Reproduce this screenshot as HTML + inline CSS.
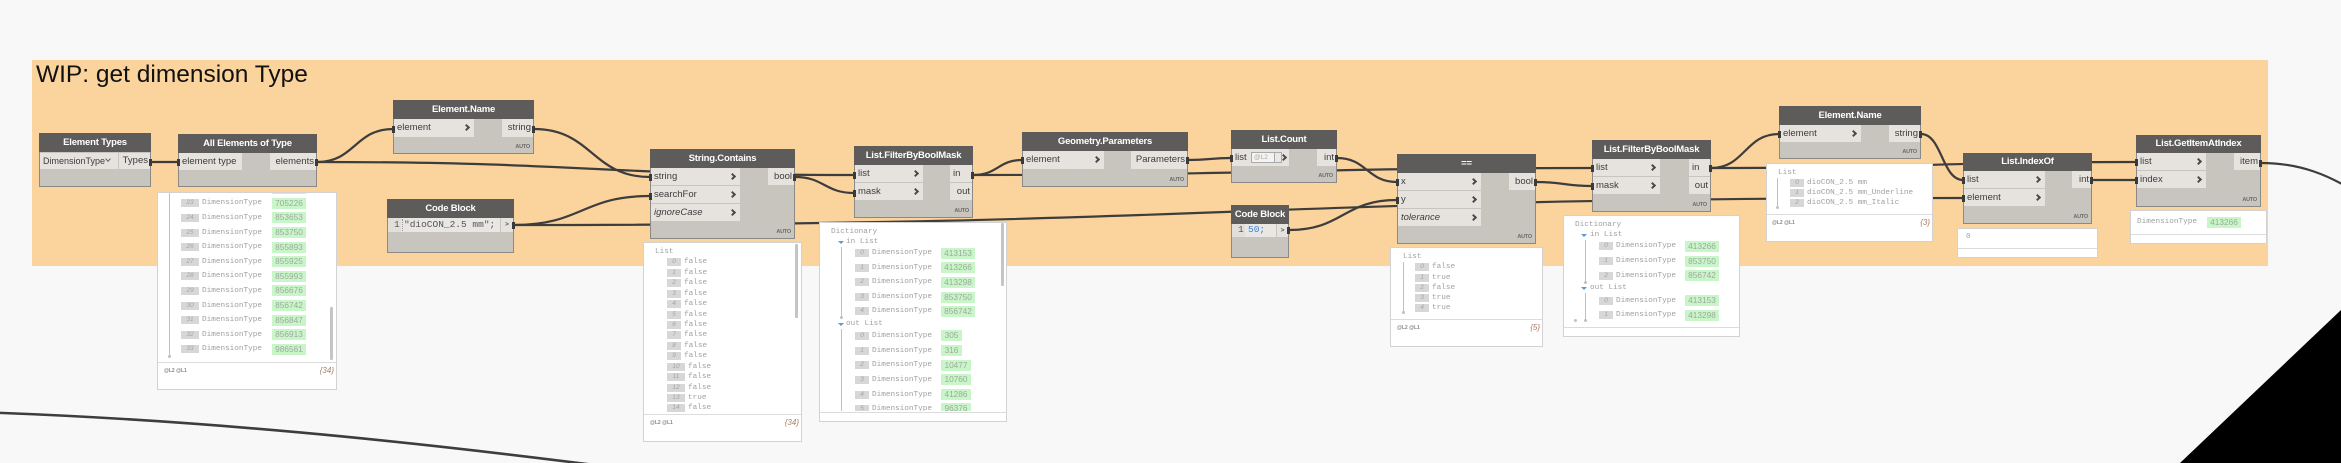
<!DOCTYPE html>
<html><head><meta charset="utf-8"><style>
*{margin:0;padding:0}
body{width:2341px;height:463px;background:#f8f8f8;position:relative;overflow:hidden;font-family:"Liberation Sans",sans-serif}
.grp{position:absolute;left:32px;top:60px;width:2236px;height:206px;background:#fbd39d;z-index:0}
.title{position:absolute;left:36px;top:60px;font-size:24.5px;line-height:30px;color:#111;z-index:1;white-space:nowrap}
svg.w{position:absolute;left:0;top:0;z-index:1}
svg.m{position:absolute;left:0;top:0;z-index:5}
.n{position:absolute;background:#c8c4be;border:1px solid #8b8985;box-sizing:border-box;z-index:2}
.h{position:absolute;left:-1px;top:-1px;right:-1px;height:19px;background:#5d5c5a;color:#fff;font-weight:bold;font-size:9.5px;letter-spacing:-0.2px;text-align:center;line-height:19px;white-space:nowrap}
.ip{position:absolute;left:0;background:#e6e3df;height:17px;line-height:17px;font-size:9.5px;color:#3c3c3c;padding-left:3px;box-sizing:border-box;white-space:nowrap}
.op{position:absolute;background:#e6e3df;height:17px;line-height:17px;font-size:9.5px;color:#3c3c3c;text-align:right;padding-right:2px;box-sizing:border-box;white-space:nowrap}
.ch{position:absolute;right:5px;top:6px;width:3px;height:3px;border-top:2px solid #4a4a4a;border-right:2px solid #4a4a4a;transform:rotate(45deg)}
.au{position:absolute;right:3px;bottom:3px;font-size:5.5px;line-height:6px;font-weight:bold;color:#6e6c69;letter-spacing:-0.2px}
.pv{position:absolute;background:#fff;border:1px solid #d2d2d2;box-sizing:border-box;overflow:hidden;z-index:3}
.cc{position:absolute;left:0;top:0;width:100%;overflow:hidden}
.rw{position:absolute;left:0;width:100%;height:12px}
.t{position:absolute;font:7.7px/10px "Liberation Mono",monospace;color:#a0a0a0;white-space:pre}
.rw .t{top:1px}
.ix{position:absolute;top:2px;height:8px;background:#d7d7d7;color:#a5a5a5;font:italic 6.5px/8px "Liberation Sans",sans-serif;text-align:center}
.gv{position:absolute;top:0.5px;height:11px;background:#c9f6c9;color:#9ea89e;font:8.3px/11px "Liberation Sans",sans-serif;text-align:center}
.ft{position:absolute;left:0;right:0;height:1px;background:#dcdcdc}
.lv{position:absolute;font:bold 5px/6px "Liberation Sans",sans-serif;color:#888;white-space:nowrap}
.ct{position:absolute;right:2px;font:italic 8px/10px "Liberation Sans",sans-serif;color:#a87c62}
.vl{position:absolute;width:1px;background:#c0c0c0}
.dot{position:absolute;width:3px;height:3px;background:#c0c0c0;border-radius:2px}
.sb{position:absolute;width:3px;background:#c5c5c5;border-radius:1px}
.ar{position:absolute;width:0;height:0;border-left:3px solid transparent;border-right:3px solid transparent;border-top:3px solid #5b9bd5}
.code{position:absolute;font:9.5px/14px "Liberation Mono",monospace;color:#555;white-space:pre}
</style></head><body>

<div class="grp"></div>
<div class="title">WIP: get dimension Type</div>

<svg class="w" width="2341" height="463" viewBox="0 0 2341 463">
<g fill="none" stroke="#3d3d3d" stroke-width="2.2">
<path d="M151,162 L178,162"/>
<path d="M317,162 C355,162 355,129 393,129"/>
<path d="M317,162 C585,162 586,175 854,175"/>
<path d="M534,129 C592,129 592,177 650,177"/>
<path d="M514,225 C582,225 582,196 650,196"/>
<path d="M514,225 C1238,225 1239,198 1963,198"/>
<path d="M795,177 C824,177 825,193 854,193"/>
<path d="M973,175 C998,175 998,160 1022,160"/>
<path d="M973,175 C1282,175 1283,168 1592,168"/>
<path d="M1188,160 C1210,160 1210,158 1231,158"/>
<path d="M1337,158 C1367,158 1367,182 1397,182"/>
<path d="M1289,230 C1343,230 1343,200 1397,200"/>
<path d="M1536,182 C1564,182 1564,186 1592,186"/>
<path d="M1711,168 C1745,168 1745,134 1779,134"/>
<path d="M1711,168 C1924,168 1924,162 2136,162"/>
<path d="M1921,134 C1942,134 1942,180 1963,180"/>
<path d="M2092,180 L2136,180"/>
<path d="M2261,163 C2300,163 2330,175 2360,195"/>
<path d="M-10,412.5 C200,420 400,440 610,467" stroke-width="2.6"/>
</g>
<polygon points="2180,463 2341,310 2341,463" fill="#000"/>
</svg>

<!-- Element Types -->
<div class="n" style="left:39px;top:133px;width:112px;height:54px">
 <div class="h">Element Types</div>
 <div class="ip" style="top:19px;width:78px;height:16px;line-height:16px;font-size:9px">DimensionType<span style="position:absolute;right:8px;top:4px;width:3px;height:3px;border-right:1px solid #666;border-bottom:1px solid #666;transform:rotate(45deg)"></span></div>
 <div class="op" style="left:79px;top:19px;width:31px;height:16px;line-height:16px">Types</div>
</div>

<!-- All Elements of Type -->
<div class="n" style="left:178px;top:134px;width:139px;height:53px">
 <div class="h">All Elements of Type</div>
 <div class="ip" style="top:18px;width:63px">element type</div>
 <div class="op" style="left:91px;top:18px;width:46px">elements</div>
</div>

<!-- Element.Name 1 -->
<div class="n" style="left:393px;top:100px;width:141px;height:54px">
 <div class="h">Element.Name</div>
 <div class="ip" style="top:18px;width:80px;height:18px;line-height:18px">element<span class="ch"></span></div>
 <div class="op" style="left:108px;top:18px;width:31px;height:18px;line-height:18px">string</div>
 <div class="au">AUTO</div>
</div>

<!-- String.Contains -->
<div class="n" style="left:650px;top:149px;width:145px;height:90px">
 <div class="h">String.Contains</div>
 <div class="ip" style="top:18px;width:89px">string<span class="ch"></span></div>
 <div class="ip" style="top:36px;width:89px">searchFor<span class="ch"></span></div>
 <div class="ip" style="top:54px;width:89px;font-style:italic">ignoreCase<span class="ch"></span></div>
 <div class="op" style="left:117px;top:18px;width:26px">bool</div>
 <div class="au">AUTO</div>
</div>

<!-- Code Block 1 -->
<div class="n" style="left:387px;top:199px;width:127px;height:54px">
 <div class="h">Code Block</div>
 <div style="position:absolute;left:0;top:18px;width:112px;height:14px;background:#e9e7e3"></div>
 <div style="position:absolute;left:0;top:18px;width:13px;height:14px;background:#e2dfda"></div>
 <div style="position:absolute;left:14px;top:19px;width:0;height:12px;border-left:1px dotted #999"></div>
 <div class="code" style="left:6px;top:18px">1</div>
 <div class="code" style="left:16px;top:18px">"dioCON_2.5 mm";</div>
 <div style="position:absolute;left:113px;top:18px;width:12px;height:14px;background:#e6e3df;font:bold 6.5px/14px 'Liberation Sans';color:#555;text-align:center">&gt;</div>
</div>

<!-- List.FilterByBoolMask 1 -->
<div class="n" style="left:854px;top:146px;width:119px;height:72px">
 <div class="h">List.FilterByBoolMask</div>
 <div class="ip" style="top:18px;width:68px">list<span class="ch"></span></div>
 <div class="ip" style="top:36px;width:68px">mask<span class="ch"></span></div>
 <div class="op" style="left:95px;top:18px;width:22px;text-align:left;padding-left:3px">in</div>
 <div class="op" style="left:95px;top:36px;width:22px">out</div>
 <div class="au">AUTO</div>
</div>

<!-- Geometry.Parameters -->
<div class="n" style="left:1022px;top:132px;width:166px;height:55px">
 <div class="h">Geometry.Parameters</div>
 <div class="ip" style="top:18px;width:81px;height:18px;line-height:18px">element<span class="ch"></span></div>
 <div class="op" style="left:108px;top:18px;width:56px;height:18px;line-height:18px">Parameters</div>
 <div class="au">AUTO</div>
</div>

<!-- List.Count -->
<div class="n" style="left:1231px;top:130px;width:106px;height:53px">
 <div class="h">List.Count</div>
 <div class="ip" style="top:18px;width:57px">list<span class="ch" style="right:3px"></span>
  <div style="position:absolute;left:19px;top:3px;width:31px;height:11px;box-sizing:border-box;border:1px solid #aaa;background:#f4f3f1;font:6.5px/9px 'Liberation Sans';color:#aaa;padding-left:2px">@L2
   <div style="position:absolute;right:0;top:0;width:6px;height:9px;border-left:1px solid #aaa;background:#e8e8e8"></div></div>
 </div>
 <div class="op" style="left:85px;top:18px;width:19px">int</div>
 <div class="au">AUTO</div>
</div>

<!-- Code Block 2 -->
<div class="n" style="left:1231px;top:205px;width:58px;height:53px">
 <div class="h">Code Block</div>
 <div style="position:absolute;left:0;top:18px;width:44px;height:13px;background:#e9e7e3"></div>
 <div style="position:absolute;left:0;top:18px;width:13px;height:13px;background:#e2dfda"></div>
 <div class="code" style="left:6px;top:17px">1</div>
 <div class="code" style="left:16px;top:17px;color:#3f7fd6">50;</div>
 <div style="position:absolute;left:45px;top:18px;width:11px;height:13px;background:#e6e3df;font:bold 6.5px/13px 'Liberation Sans';color:#555;text-align:center">&gt;</div>
</div>

<!-- == -->
<div class="n" style="left:1397px;top:154px;width:139px;height:90px">
 <div class="h">==</div>
 <div class="ip" style="top:18px;width:83px">x<span class="ch"></span></div>
 <div class="ip" style="top:36px;width:83px">y<span class="ch"></span></div>
 <div class="ip" style="top:54px;width:83px;font-style:italic">tolerance<span class="ch"></span></div>
 <div class="op" style="left:111px;top:18px;width:26px">bool</div>
 <div class="au">AUTO</div>
</div>

<!-- List.FilterByBoolMask 2 -->
<div class="n" style="left:1592px;top:140px;width:119px;height:72px">
 <div class="h">List.FilterByBoolMask</div>
 <div class="ip" style="top:18px;width:67px">list<span class="ch"></span></div>
 <div class="ip" style="top:36px;width:67px">mask<span class="ch"></span></div>
 <div class="op" style="left:96px;top:18px;width:21px;text-align:left;padding-left:3px">in</div>
 <div class="op" style="left:96px;top:36px;width:21px">out</div>
 <div class="au">AUTO</div>
</div>

<!-- Element.Name 2 -->
<div class="n" style="left:1779px;top:106px;width:142px;height:53px">
 <div class="h">Element.Name</div>
 <div class="ip" style="top:18px;width:81px">element<span class="ch"></span></div>
 <div class="op" style="left:109px;top:18px;width:31px">string</div>
 <div class="au">AUTO</div>
</div>

<!-- List.IndexOf -->
<div class="n" style="left:1963px;top:153px;width:129px;height:71px">
 <div class="h" style="height:18px;line-height:18px">List.IndexOf</div>
 <div class="ip" style="top:17px;width:81px">list<span class="ch"></span></div>
 <div class="ip" style="top:35px;width:81px">element<span class="ch"></span></div>
 <div class="op" style="left:108px;top:17px;width:19px">int</div>
 <div class="au">AUTO</div>
</div>

<!-- List.GetItemAtIndex -->
<div class="n" style="left:2136px;top:135px;width:125px;height:72px">
 <div class="h" style="height:18px;line-height:18px">List.GetItemAtIndex</div>
 <div class="ip" style="top:17px;width:69px">list<span class="ch"></span></div>
 <div class="ip" style="top:35px;width:69px">index<span class="ch"></span></div>
 <div class="op" style="left:97px;top:17px;width:26px">item</div>
 <div class="au">AUTO</div>
</div>

<!-- Preview B: All Elements -->
<div class="pv" style="left:157px;top:192px;width:180px;height:198px">
 <div class="cc" style="height:168px">
  <div class="vl" style="left:11px;top:0;height:163px"></div><div class="dot" style="left:10px;top:162px"></div>
  <div class="rw" style="top:-10.3px"><div class="ix" style="left:23px;width:18px">22</div><div class="t" style="left:44px">DimensionType</div><div class="gv" style="left:114px;width:34px">704891</div></div>
  <div class="rw" style="top:4.3px"><div class="ix" style="left:23px;width:18px">23</div><div class="t" style="left:44px">DimensionType</div><div class="gv" style="left:114px;width:34px">705226</div></div>
  <div class="rw" style="top:18.9px"><div class="ix" style="left:23px;width:18px">24</div><div class="t" style="left:44px">DimensionType</div><div class="gv" style="left:114px;width:34px">853653</div></div>
  <div class="rw" style="top:33.5px"><div class="ix" style="left:23px;width:18px">25</div><div class="t" style="left:44px">DimensionType</div><div class="gv" style="left:114px;width:34px">853750</div></div>
  <div class="rw" style="top:48.1px"><div class="ix" style="left:23px;width:18px">26</div><div class="t" style="left:44px">DimensionType</div><div class="gv" style="left:114px;width:34px">855893</div></div>
  <div class="rw" style="top:62.7px"><div class="ix" style="left:23px;width:18px">27</div><div class="t" style="left:44px">DimensionType</div><div class="gv" style="left:114px;width:34px">855925</div></div>
  <div class="rw" style="top:77.3px"><div class="ix" style="left:23px;width:18px">28</div><div class="t" style="left:44px">DimensionType</div><div class="gv" style="left:114px;width:34px">855993</div></div>
  <div class="rw" style="top:91.9px"><div class="ix" style="left:23px;width:18px">29</div><div class="t" style="left:44px">DimensionType</div><div class="gv" style="left:114px;width:34px">856676</div></div>
  <div class="rw" style="top:106.5px"><div class="ix" style="left:23px;width:18px">30</div><div class="t" style="left:44px">DimensionType</div><div class="gv" style="left:114px;width:34px">856742</div></div>
  <div class="rw" style="top:121.1px"><div class="ix" style="left:23px;width:18px">31</div><div class="t" style="left:44px">DimensionType</div><div class="gv" style="left:114px;width:34px">856847</div></div>
  <div class="rw" style="top:135.7px"><div class="ix" style="left:23px;width:18px">32</div><div class="t" style="left:44px">DimensionType</div><div class="gv" style="left:114px;width:34px">856913</div></div>
  <div class="rw" style="top:150.3px"><div class="ix" style="left:23px;width:18px">33</div><div class="t" style="left:44px">DimensionType</div><div class="gv" style="left:114px;width:34px">986561</div></div>
  <div class="sb" style="left:172px;top:114px;height:53px"></div>
 </div>
 <div class="ft" style="top:169px"></div>
 <div class="lv" style="left:6px;top:175px">@L2 @L1</div>
 <div class="ct" style="top:173px">{34}</div>
</div>

<!-- Preview D: String.Contains -->
<div class="pv" style="left:643px;top:242px;width:159px;height:200px">
 <div class="cc" style="height:170px">
  <div class="t" style="left:11px;top:4px">List</div>
  <div class="rw" style="top:13.3px"><div class="ix" style="left:23px;width:14px">0</div><div class="t" style="left:40px">false</div></div>
  <div class="rw" style="top:23.7px"><div class="ix" style="left:23px;width:14px">1</div><div class="t" style="left:40px">false</div></div>
  <div class="rw" style="top:34.2px"><div class="ix" style="left:23px;width:14px">2</div><div class="t" style="left:40px">false</div></div>
  <div class="rw" style="top:44.6px"><div class="ix" style="left:23px;width:14px">3</div><div class="t" style="left:40px">false</div></div>
  <div class="rw" style="top:55px"><div class="ix" style="left:23px;width:14px">4</div><div class="t" style="left:40px">false</div></div>
  <div class="rw" style="top:65.5px"><div class="ix" style="left:23px;width:14px">5</div><div class="t" style="left:40px">false</div></div>
  <div class="rw" style="top:75.9px"><div class="ix" style="left:23px;width:14px">6</div><div class="t" style="left:40px">false</div></div>
  <div class="rw" style="top:86.3px"><div class="ix" style="left:23px;width:14px">7</div><div class="t" style="left:40px">false</div></div>
  <div class="rw" style="top:96.7px"><div class="ix" style="left:23px;width:14px">8</div><div class="t" style="left:40px">false</div></div>
  <div class="rw" style="top:107.2px"><div class="ix" style="left:23px;width:14px">9</div><div class="t" style="left:40px">false</div></div>
  <div class="rw" style="top:117.6px"><div class="ix" style="left:23px;width:18px">10</div><div class="t" style="left:44px">false</div></div>
  <div class="rw" style="top:128px"><div class="ix" style="left:23px;width:18px">11</div><div class="t" style="left:44px">false</div></div>
  <div class="rw" style="top:138.5px"><div class="ix" style="left:23px;width:18px">12</div><div class="t" style="left:44px">false</div></div>
  <div class="rw" style="top:148.9px"><div class="ix" style="left:23px;width:18px">13</div><div class="t" style="left:44px">true</div></div>
  <div class="rw" style="top:159.3px"><div class="ix" style="left:23px;width:18px">14</div><div class="t" style="left:44px">false</div></div>
  <div class="rw" style="top:169.7px"><div class="ix" style="left:23px;width:18px">15</div><div class="t" style="left:44px">false</div></div>
  <div class="sb" style="left:151px;top:1px;height:74px"></div>
 </div>
 <div class="ft" style="top:171px"></div>
 <div class="lv" style="left:6px;top:177px">@L2 @L1</div>
 <div class="ct" style="top:175px">{34}</div>
</div>

<!-- Preview F: FilterByBoolMask 1 -->
<div class="pv" style="left:819px;top:222px;width:188px;height:200px">
 <div class="cc" style="height:188px">
  <div class="t" style="left:11px;top:4px">Dictionary</div>
  <div class="ar" style="left:18px;top:18px"></div><div class="t" style="left:26px;top:14px">in List</div>
  <div class="vl" style="left:21px;top:24px;height:70px"></div><div class="dot" style="left:20px;top:93px"></div>
  <div class="rw" style="top:24px"><div class="ix" style="left:35px;width:14px">0</div><div class="t" style="left:52px">DimensionType</div><div class="gv" style="left:121px;width:34px">413153</div></div>
  <div class="rw" style="top:38.7px"><div class="ix" style="left:35px;width:14px">1</div><div class="t" style="left:52px">DimensionType</div><div class="gv" style="left:121px;width:34px">413266</div></div>
  <div class="rw" style="top:53.3px"><div class="ix" style="left:35px;width:14px">2</div><div class="t" style="left:52px">DimensionType</div><div class="gv" style="left:121px;width:34px">413298</div></div>
  <div class="rw" style="top:68.3px"><div class="ix" style="left:35px;width:14px">3</div><div class="t" style="left:52px">DimensionType</div><div class="gv" style="left:121px;width:34px">853750</div></div>
  <div class="rw" style="top:82.3px"><div class="ix" style="left:35px;width:14px">4</div><div class="t" style="left:52px">DimensionType</div><div class="gv" style="left:121px;width:34px">856742</div></div>
  <div class="ar" style="left:18px;top:100px"></div><div class="t" style="left:26px;top:96px">out List</div>
  <div class="vl" style="left:21px;top:106px;height:85px"></div>
  <div class="rw" style="top:106.7px"><div class="ix" style="left:35px;width:14px">0</div><div class="t" style="left:52px">DimensionType</div><div class="gv" style="left:121px;width:21px">305</div></div>
  <div class="rw" style="top:121.7px"><div class="ix" style="left:35px;width:14px">1</div><div class="t" style="left:52px">DimensionType</div><div class="gv" style="left:121px;width:21px">316</div></div>
  <div class="rw" style="top:136.3px"><div class="ix" style="left:35px;width:14px">2</div><div class="t" style="left:52px">DimensionType</div><div class="gv" style="left:121px;width:30px">10477</div></div>
  <div class="rw" style="top:150.7px"><div class="ix" style="left:35px;width:14px">3</div><div class="t" style="left:52px">DimensionType</div><div class="gv" style="left:121px;width:30px">10760</div></div>
  <div class="rw" style="top:165.7px"><div class="ix" style="left:35px;width:14px">4</div><div class="t" style="left:52px">DimensionType</div><div class="gv" style="left:121px;width:30px">41286</div></div>
  <div class="rw" style="top:179.7px"><div class="ix" style="left:35px;width:14px">5</div><div class="t" style="left:52px">DimensionType</div><div class="gv" style="left:121px;width:30px">96376</div></div>
  <div class="sb" style="left:181px;top:0;height:63px"></div>
 </div>
 <div class="ft" style="top:189px"></div>
</div>

<!-- Preview J: == -->
<div class="pv" style="left:1390px;top:247px;width:153px;height:100px">
 <div class="t" style="left:12px;top:4px">List</div>
 <div class="vl" style="left:12px;top:14px;height:50px"></div><div class="dot" style="left:11px;top:63px"></div>
 <div class="rw" style="top:13.3px"><div class="ix" style="left:24px;width:14px">0</div><div class="t" style="left:41px">false</div></div>
 <div class="rw" style="top:23.5px"><div class="ix" style="left:24px;width:14px">1</div><div class="t" style="left:41px">true</div></div>
 <div class="rw" style="top:33.8px"><div class="ix" style="left:24px;width:14px">2</div><div class="t" style="left:41px">false</div></div>
 <div class="rw" style="top:44px"><div class="ix" style="left:24px;width:14px">3</div><div class="t" style="left:41px">true</div></div>
 <div class="rw" style="top:54.3px"><div class="ix" style="left:24px;width:14px">4</div><div class="t" style="left:41px">true</div></div>
 <div class="ft" style="top:71px"></div>
 <div class="lv" style="left:6px;top:77px">@L2 @L1</div>
 <div class="ct" style="top:75px">{5}</div>
</div>

<!-- Preview K: FilterByBoolMask 2 -->
<div class="pv" style="left:1563px;top:215px;width:177px;height:122px">
 <div class="t" style="left:11px;top:4px">Dictionary</div>
 <div class="ar" style="left:17px;top:18px"></div><div class="t" style="left:26px;top:14px">in List</div>
 <div class="vl" style="left:21px;top:24px;height:42px"></div><div class="dot" style="left:20px;top:65px"></div>
 <div class="rw" style="top:24.3px"><div class="ix" style="left:35px;width:14px">0</div><div class="t" style="left:52px">DimensionType</div><div class="gv" style="left:121px;width:34px">413266</div></div>
 <div class="rw" style="top:39.3px"><div class="ix" style="left:35px;width:14px">1</div><div class="t" style="left:52px">DimensionType</div><div class="gv" style="left:121px;width:34px">853750</div></div>
 <div class="rw" style="top:53.7px"><div class="ix" style="left:35px;width:14px">2</div><div class="t" style="left:52px">DimensionType</div><div class="gv" style="left:121px;width:34px">856742</div></div>
 <div class="ar" style="left:17px;top:71px"></div><div class="t" style="left:26px;top:67px">out List</div>
 <div class="vl" style="left:21px;top:77px;height:27px"></div><div class="dot" style="left:20px;top:103px"></div><div class="dot" style="left:10px;top:103px"></div>
 <div class="rw" style="top:78.7px"><div class="ix" style="left:35px;width:14px">0</div><div class="t" style="left:52px">DimensionType</div><div class="gv" style="left:121px;width:34px">413153</div></div>
 <div class="rw" style="top:93px"><div class="ix" style="left:35px;width:14px">1</div><div class="t" style="left:52px">DimensionType</div><div class="gv" style="left:121px;width:34px">413298</div></div>
 <div class="ft" style="top:111px"></div>
</div>

<!-- Preview L: Element.Name 2 -->
<div class="pv" style="left:1766px;top:163px;width:167px;height:79px">
 <div class="t" style="left:11px;top:4px">List</div>
 <div class="vl" style="left:10px;top:14px;height:29px"></div><div class="dot" style="left:9px;top:42px"></div>
 <div class="rw" style="top:13px"><div class="ix" style="left:23px;width:14px">0</div><div class="t" style="left:40px">dioCON_2.5 mm</div></div>
 <div class="rw" style="top:23.3px"><div class="ix" style="left:23px;width:14px">1</div><div class="t" style="left:40px">dioCON_2.5 mm_Underline</div></div>
 <div class="rw" style="top:33.3px"><div class="ix" style="left:23px;width:14px">2</div><div class="t" style="left:40px">dioCON_2.5 mm_Italic</div></div>
 <div class="ft" style="top:50px"></div>
 <div class="lv" style="left:5px;top:56px">@L2 @L1</div>
 <div class="ct" style="top:54px">{3}</div>
</div>

<!-- Preview M: IndexOf -->
<div class="pv" style="left:1957px;top:228px;width:141px;height:30px">
 <div class="t" style="left:8px;top:3px">0</div>
 <div class="ft" style="top:19px"></div>
</div>

<!-- Preview N: GetItemAtIndex -->
<div class="pv" style="left:2130px;top:210px;width:137px;height:34px">
 <div class="rw" style="top:5px"><div class="t" style="left:6px">DimensionType</div><div class="gv" style="left:76px;width:34px">413266</div></div>
 <div class="ft" style="top:23px"></div>
</div>

<svg class="m" width="2341" height="463" viewBox="0 0 2341 463">
<g fill="#3a3a3a">
<rect x="149" y="159" width="3" height="7"/>
<rect x="177" y="159" width="3" height="7"/><rect x="315" y="159" width="3" height="7"/>
<rect x="392" y="126" width="3" height="7"/><rect x="532" y="126" width="3" height="7"/>
<rect x="649" y="174" width="3" height="7"/><rect x="649" y="193" width="3" height="7"/><rect x="793" y="174" width="3" height="7"/>
<rect x="512" y="222" width="3" height="7"/>
<rect x="853" y="172" width="3" height="7"/><rect x="853" y="190" width="3" height="7"/><rect x="971" y="172" width="3" height="7"/>
<rect x="1021" y="157" width="3" height="7"/><rect x="1186" y="157" width="3" height="7"/>
<rect x="1230" y="155" width="3" height="7"/><rect x="1335" y="155" width="3" height="7"/>
<rect x="1287" y="227" width="3" height="7"/>
<rect x="1396" y="179" width="3" height="7"/><rect x="1396" y="197" width="3" height="7"/><rect x="1534" y="179" width="3" height="7"/>
<rect x="1591" y="165" width="3" height="7"/><rect x="1591" y="183" width="3" height="7"/><rect x="1709" y="165" width="3" height="7"/>
<rect x="1778" y="131" width="3" height="7"/><rect x="1919" y="131" width="3" height="7"/>
<rect x="1962" y="177" width="3" height="7"/><rect x="1962" y="195" width="3" height="7"/><rect x="2090" y="177" width="3" height="7"/>
<rect x="2135" y="159" width="3" height="7"/><rect x="2135" y="177" width="3" height="7"/><rect x="2259" y="160" width="3" height="7"/>
</g>
</svg>

</body></html>
